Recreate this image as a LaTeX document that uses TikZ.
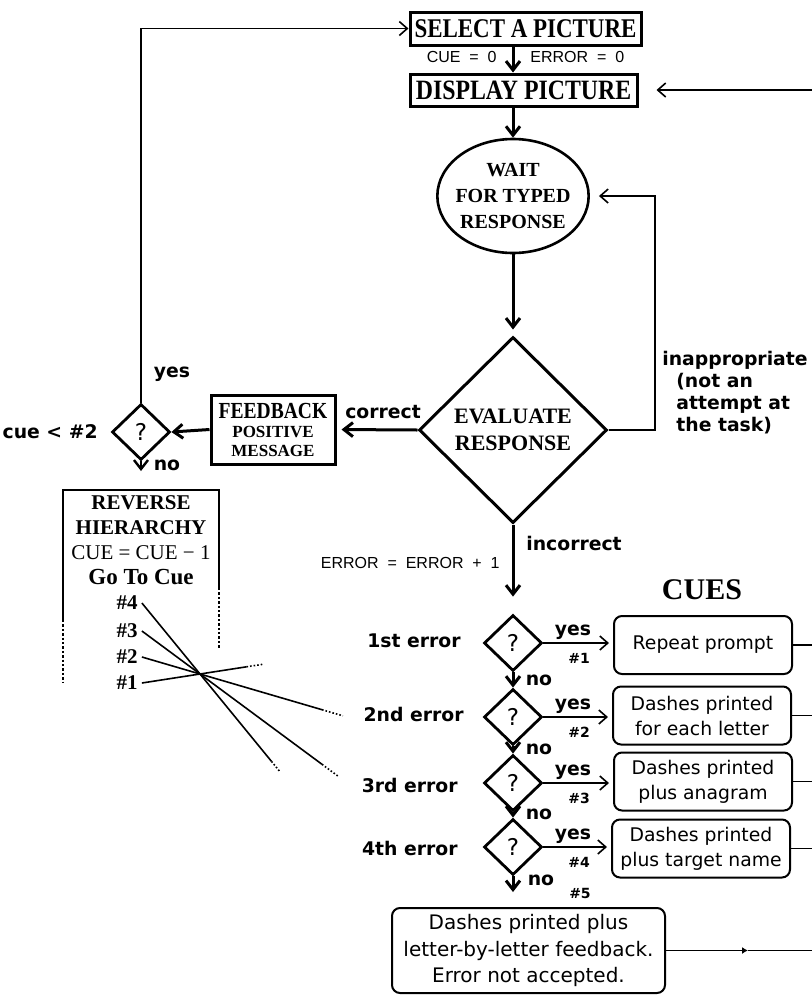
\documentclass[tikz,border=0pt]{standalone}
\usepackage{fontspec}
\setmainfont{Liberation Serif}
\newfontfamily\narrowfont[FakeStretch=0.85]{Liberation Serif}
\newfontfamily\chifont{DejaVu Sans}
\newfontfamily\smallfont{Liberation Sans}
\usepackage{tikz}
\usetikzlibrary{positioning, calc, arrows.meta, shapes.geometric}

\begin{document}
\begin{tikzpicture}[x=0.5pt, y=-0.5pt,
    flow/.style={line width=1.5pt, -{Straight Barb[length=4.5pt,width=7pt]}},
    loopline/.style={line width=0.8pt},
    loopflow/.style={line width=0.8pt, -{Straight Barb[length=4pt,width=7pt]}},
    titlebox/.style={draw, line width=1.5pt, inner sep=0pt, align=center},
    cuebox/.style={draw, line width=1pt, rounded corners=4pt, inner sep=0pt,
        minimum width=89pt, minimum height=29pt, align=center,
        font={\chifont\fontsize{9.4}{12.5}\selectfont}},
    query/.style={diamond, draw, line width=1.4pt, inner sep=0pt,
        minimum width=29pt, minimum height=28pt, font={\chifont\fontsize{11.5}{11}\selectfont}},
    lbl/.style={font={\chifont\bfseries\fontsize{9.4}{11}\selectfont}, inner sep=1pt},
    cuenum/.style={font={\chifont\bfseries\fontsize{7}{8}\selectfont}, inner sep=0pt},
    counter/.style={font={\smallfont\fontsize{8}{9}\selectfont}, inner sep=0pt}]
        \useasboundingbox (0,0) rectangle (812,997);

        % Draw picture boxes
        \node[titlebox, minimum width=115.5pt, minimum height=16.5pt, font={\narrowfont\bfseries\fontsize{13.5}{13.5}\selectfont}] (sel) at (525.5,28.5) {SELECT A PICTURE};
        \node[titlebox, minimum width=113.5pt, minimum height=16pt, font={\narrowfont\bfseries\fontsize{14}{14}\selectfont}] (disp) at (523.5,90) {DISPLAY PICTURE};
        \node[counter, anchor=east] (cue0) at (497,57) {CUE ~=~ 0};
        \node[counter, anchor=west] (err0) at (530,57) {ERROR ~=~ 0};

        % Draw wait and evaluate
        \node[ellipse, draw, line width=1.3pt, minimum width=72.5pt, minimum height=57pt, inner xsep=-2pt, inner ysep=0pt, align=center, font={\bfseries\fontsize{10}{13}\selectfont}] (wait) at (513,196) {WAIT\\FOR TYPED\\RESPONSE};
        \node[diamond, draw, line width=1.5pt, minimum width=94pt, minimum height=93pt, inner sep=0pt, align=center, font={\bfseries\fontsize{11}{13.5}\selectfont}] (eval) at (513,430) {EVALUATE\\RESPONSE};
        \node[lbl, anchor=north west, align=left] (inap) at (660,349) {inappropriate\\\hspace*{7pt}(not an\\\hspace*{7pt}attempt at\\\hspace*{7pt}the task)};
        \coordinate (rloop) at (655,300);
        \coordinate (rtop) at (812,90);

        % Draw feedback side
        \node[titlebox, minimum width=62pt, minimum height=34.5pt, font={\bfseries\fontsize{8.5}{9.5}\selectfont}] (fb) at (273,429.5) {{\narrowfont\fontsize{11.5}{11}\selectfont FEEDBACK}\\POSITIVE\\MESSAGE};
        \node[lbl] (cor) at (383,412) {correct};
        \node[query] (q0) at (141,432) {?};
        \node[lbl, anchor=east] (cuelt) at (100,432) {cue < \#2};
        \node[lbl] (yes0) at (172,374) {yes};
        \node[lbl] (no0) at (167,465) {no};
        \coordinate (q0out) at (141,471);

        % Reverse hierarchy (open box)
        \node[align=center, font={\bfseries\fontsize{10.5}{12.5}\selectfont}] (rev) at (141,540) {REVERSE\\HIERARCHY\\{\mdseries CUE = CUE − 1}\\{\fontsize{11.5}{12.5}\selectfont Go To Cue}};
        \draw[line width=1.2pt] (63,620) -- (63,490) -- (219,490) -- (219,588);
        \draw[line width=1.2pt, densely dotted] (63,620) -- (63,682);
        \draw[line width=1.2pt, densely dotted] (219,588) -- (219,648);
        \foreach \n/\y in {4/603, 3/631, 2/657, 1/683}
            \node[font={\bfseries\fontsize{10.5}{11}\selectfont}, inner sep=2pt] (c\n) at (127,\y) {\#\n};
        \coordinate (cross) at (200,674);
        \foreach \n/\a/\b in {4/2.23/2.37, 3/3.1/3.37, 2/3.1/3.46, 1/1.8/2.1} {
            \draw[loopline] (c\n.east) -- ($(c\n.east)!\a!(cross)$);
            \draw[loopline, densely dotted] ($(c\n.east)!\a!(cross)$) -- ($(c\n.east)!\b!(cross)$);
        }

        % Draw cues
        \node[font={\bfseries\fontsize{15}{15}\selectfont}] (cues) at (702,590) {CUES};
        \node[lbl, anchor=west] (inc) at (524,543) {incorrect};
        \node[counter, anchor=east] (errinc) at (500,563) {ERROR ~=~ ERROR ~+~ 1};
        \foreach \i/\y in {1/643, 2/717, 3/783, 4/847}
            \node[query] (d\i) at (513,\y) {?};
        \node[lbl, anchor=east] (e1) at (463,641) {1st error};
        \node[lbl, anchor=east] (e2) at (466,714) {2nd error};
        \node[lbl, anchor=east] (e3) at (460,785) {3rd error};
        \node[lbl, anchor=east] (e4) at (460,848) {4th error};
        \node[cuebox] (b1) at (703,645) {Repeat prompt};
        \node[cuebox] (b2) at (702,715.5) {Dashes printed\\for each letter};
        \node[cuebox] (b3) at (703,781.5) {Dashes printed\\plus anagram};
        \node[cuebox] (b4) at (701,848.5) {Dashes printed\\plus target name};
        \node[cuebox, minimum width=136.5pt, minimum height=42.5pt, font={\chifont\fontsize{10}{13.25}\selectfont}] (b5) at (528.5,950.5) {Dashes printed plus\\letter-by-letter feedback.\\Error not accepted.};
        \node[lbl] (no4) at (541,880) {no};
        \node[cuenum] (n5) at (580,893) {\#5};
        \coordinate (redge) at (812,0);
        \coordinate (m5) at (748,0);

        % Main flow
        \draw[flow] (sel.south -| wait) -- (disp.north -| wait);
        \draw[flow] (disp.south -| wait) -- (wait.north);
        \draw[flow, shorten >=3pt] (wait.south) -- (eval.north);
        \draw[flow, shorten >=2.5pt] (eval.west) -- (fb.east);
        \draw[flow] (fb.west) -- (q0.east);
        \draw[flow, line width=1.2pt] (q0.south) -- (q0out);
        \draw[flow, shorten >=8.5pt] (eval.south) -- (d1.north);

        % Loops back
        \draw[loopflow] (q0.north) |- (sel.west);
        \draw[loopflow, shorten >=4.5pt] (eval.east) -| (rloop) |- (wait.east);
        \draw[loopflow, shorten >=9pt] (rtop) -- (disp.east);

        % Error chain
        \foreach \i/\j/\y in {1/2/680, 2/3/749, 3/4/814} {
            \draw[flow] (d\i.south) -- (d\j.north);
            \node[lbl] (no\i) at (539,\y) {no};
        }
        \draw[flow, shorten >=7.5pt] (d4.south) -- (d4.south |- b5.north);
        \foreach \i/\y in {1/643, 2/717, 3/783, 4/847} {
            \draw[loopflow, shorten >=2pt] (d\i.east) -- (d\i.east -| b\i.west);
            \node[lbl] (y\i) at (573,\y-11) {yes};
            \node[cuenum] (n\i) at (579,\y+15) {\#\i};
            \draw[loopline] (b\i.east) -- (b\i.east -| redge);
        }
        \draw[loopline, -{Latex[length=3pt,width=3.5pt]}] (b5.east) -- (b5.east -| m5);
        \draw[loopline] (b5.east -| m5) -- (b5.east -| redge);
    \end{tikzpicture}
\end{document}
